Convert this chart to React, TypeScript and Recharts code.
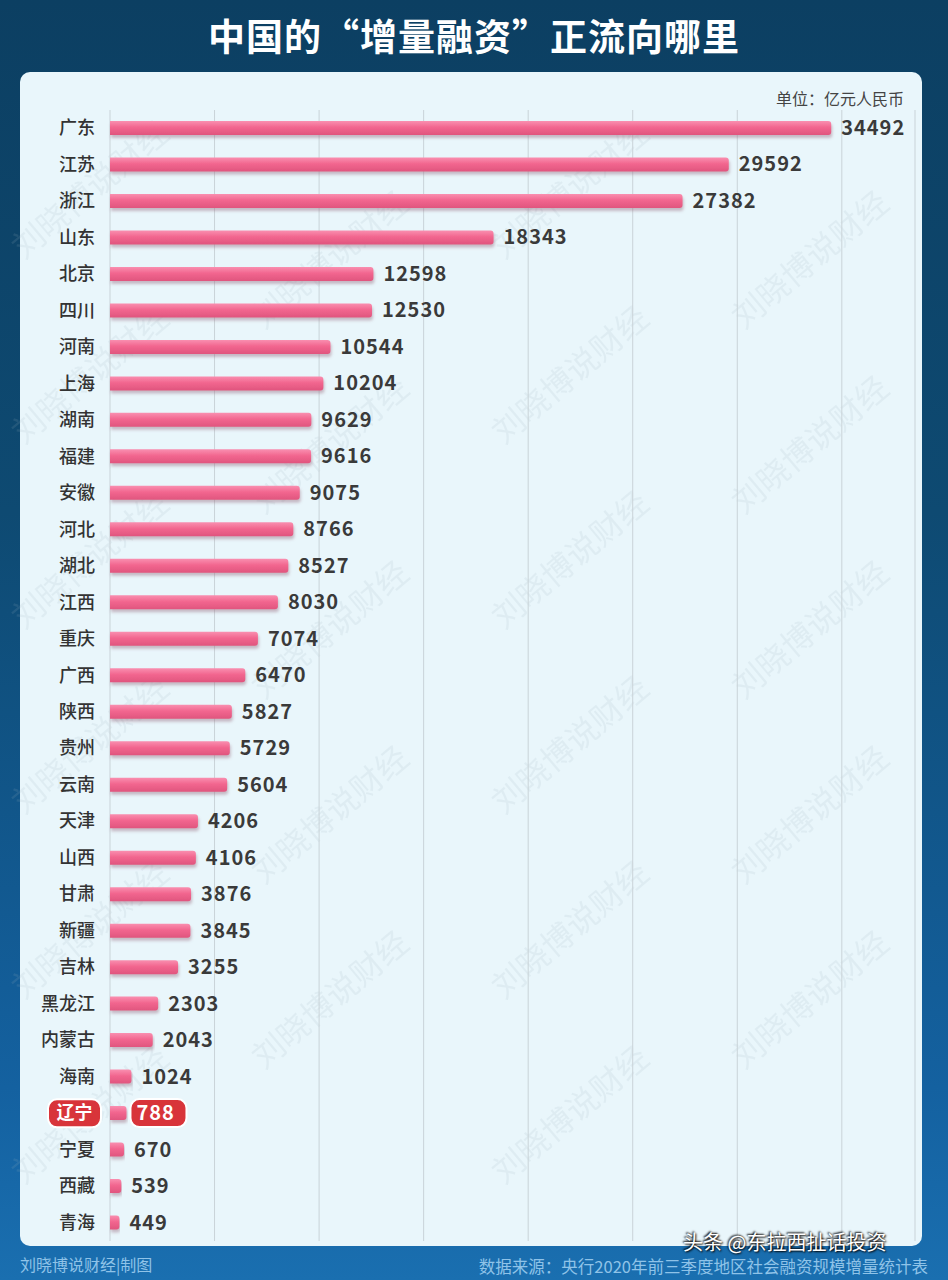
import React from 'react';
import { BarChart, Bar, XAxis, YAxis, CartesianGrid, LabelList } from 'recharts';

const provinces = [
  '广东', '江苏', '浙江', '山东', '北京', '四川', '河南', '上海', '湖南', '福建',
  '安徽', '河北', '湖北', '江西', '重庆', '广西', '陕西', '贵州', '云南', '天津',
  '山西', '甘肃', '新疆', '吉林', '黑龙江', '内蒙古', '海南', '辽宁', '宁夏', '西藏', '青海',
];

const financing = [
  34492, 29592, 27382, 18343, 12598, 12530, 10544, 10204, 9629, 9616,
  9075, 8766, 8527, 8030, 7074, 6470, 5827, 5729, 5604, 4206,
  4106, 3876, 3845, 3255, 2303, 2043, 1024, 788, 670, 539, 449,
];

const gridTicks = [0, 5000, 10000, 15000, 20000, 25000, 30000, 35000];
const highlight = '辽宁';

const FONT = '"Noto Sans CJK SC", "Noto Sans", sans-serif';

const data = provinces.map((name, i) => ({ name, value: financing[i] }));

function ProvinceTick(props: any) {
  const { y, payload } = props;
  const hot = payload.value === highlight;
  return (
    <g>
      {hot && (
        <rect x={48} y={y - 14} width={53} height={28} rx={9} fill="#d8343a" stroke="#fff" strokeWidth={2} />
      )}
      <text
        x={hot ? 74.5 : 95}
        y={y}
        dy={6}
        textAnchor={hot ? 'middle' : 'end'}
        fontSize={18}
        fontWeight={hot ? 700 : 500}
        fill={hot ? '#fff' : '#333'}
        fontFamily={FONT}
      >
        {payload.value}
      </text>
    </g>
  );
}

function ValueLabel(props: any) {
  const { x, y, width, height, value, index } = props;
  const hot = provinces[index] === highlight;
  const cx = x + width + 10;
  const cy = y + height / 2;
  return (
    <g>
      {hot && (
        <rect x={cx - 6} y={cy - 14} width={56} height={28} rx={9} fill="#d8343a" stroke="#fff" strokeWidth={2} />
      )}
      <text
        x={cx}
        y={cy}
        dy={7}
        fontSize={20}
        fontWeight={700}
        fill={hot ? '#fff' : '#3a3a3a'}
        fontFamily={FONT}
        letterSpacing={1}
      >
        {value}
      </text>
    </g>
  );
}

// faint diagonal watermark positions (kept inside the canvas)
const watermarks: Array<[number, number]> = [];
for (let r = 0; r < 6; r++) {
  for (let c = 0; c < 4; c++) {
    watermarks.push([24 + c * 240, 260 + r * 185 + (c % 2) * 70]);
  }
}

export default function App() {
  return (
    <div
      style={{
        position: 'relative',
        width: 948,
        height: 1280,
        overflow: 'hidden',
        fontFamily: FONT,
        background: 'linear-gradient(180deg, #0c3f62 0%, #0e4a72 40%, #1461a0 85%, #1a6fb0 100%)',
      }}
    >
      <style>{`body{margin:0}`}</style>
      <div
        style={{
          position: 'absolute',
          top: 8,
          left: 0,
          width: 948,
          textAlign: 'center',
          color: '#fff',
          fontSize: 37,
          fontWeight: 700,
          letterSpacing: 1,
        }}
      >
        中国的“增量融资”正流向哪里
      </div>
      <div
        style={{
          position: 'absolute',
          left: 20,
          top: 72,
          width: 902,
          height: 1174,
          borderRadius: 10,
          background: '#e9f6fb',
        }}
      />
      <div style={{ position: 'absolute', right: 44, top: 86, fontSize: 16, color: '#444' }}>
        单位：亿元人民币
      </div>
      <svg width={948} height={1280} style={{ position: 'absolute', left: 0, top: 0 }}>
        {watermarks
          .filter(([wx, wy]) => wy < 1250 && wx + 160 < 940)
          .map(([wx, wy], i) => (
            <text
              key={i}
              x={wx}
              y={wy}
              transform={`rotate(-40 ${wx} ${wy})`}
              fontSize={32}
              fill="#9fb4c0"
              opacity={0.14}
              fontFamily={FONT}
            >
              刘晓博说财经
            </text>
          ))}
      </svg>
      <div style={{ position: 'absolute', left: 0, top: 0 }}>
        <BarChart
          width={948}
          height={1280}
          data={data}
          layout="vertical"
          margin={{ top: 110, right: 33, bottom: 39, left: 0 }}
          barCategoryGap={0}
        >
          <defs>
            <linearGradient id="barFill" x1="0" y1="0" x2="0" y2="1">
              <stop offset="0%" stopColor="#f98fb0" />
              <stop offset="45%" stopColor="#f2668f" />
              <stop offset="100%" stopColor="#e0557e" />
            </linearGradient>
            <filter id="barShadow" x="-5%" y="-50%" width="110%" height="250%">
              <feDropShadow dx={1} dy={3} stdDeviation={1.5} floodColor="#9a7080" floodOpacity={0.45} />
            </filter>
          </defs>
          <CartesianGrid horizontal={false} stroke="#c9d3d8" strokeWidth={1} />
          <XAxis type="number" domain={[0, 38500]} ticks={gridTicks} hide />
          <YAxis
            type="category"
            dataKey="name"
            width={110}
            axisLine={false}
            tickLine={false}
            interval={0}
            tick={<ProvinceTick />}
          />
          <Bar
            dataKey="value"
            barSize={14}
            fill="url(#barFill)"
            radius={[0, 3, 3, 0]}
            filter="url(#barShadow)"
            isAnimationActive={false}
          >
            <LabelList dataKey="value" content={<ValueLabel />} />
          </Bar>
        </BarChart>
      </div>
      <div style={{ position: 'absolute', left: 20, top: 1252, fontSize: 16, color: '#8fc3e8' }}>
        刘晓博说财经|制图
      </div>
      <div style={{ position: 'absolute', right: 20, top: 1254, fontSize: 16.5, color: '#8fc3e8' }}>
        数据来源：央行2020年前三季度地区社会融资规模增量统计表
      </div>
      <div
        style={{
          position: 'absolute',
          left: 683,
          top: 1227,
          fontSize: 20,
          color: '#fff',
          textShadow: '1px 1px 2px #000, -1px -1px 2px #000',
        }}
      >
        头条 @东拉西扯话投资
      </div>
    </div>
  );
}
